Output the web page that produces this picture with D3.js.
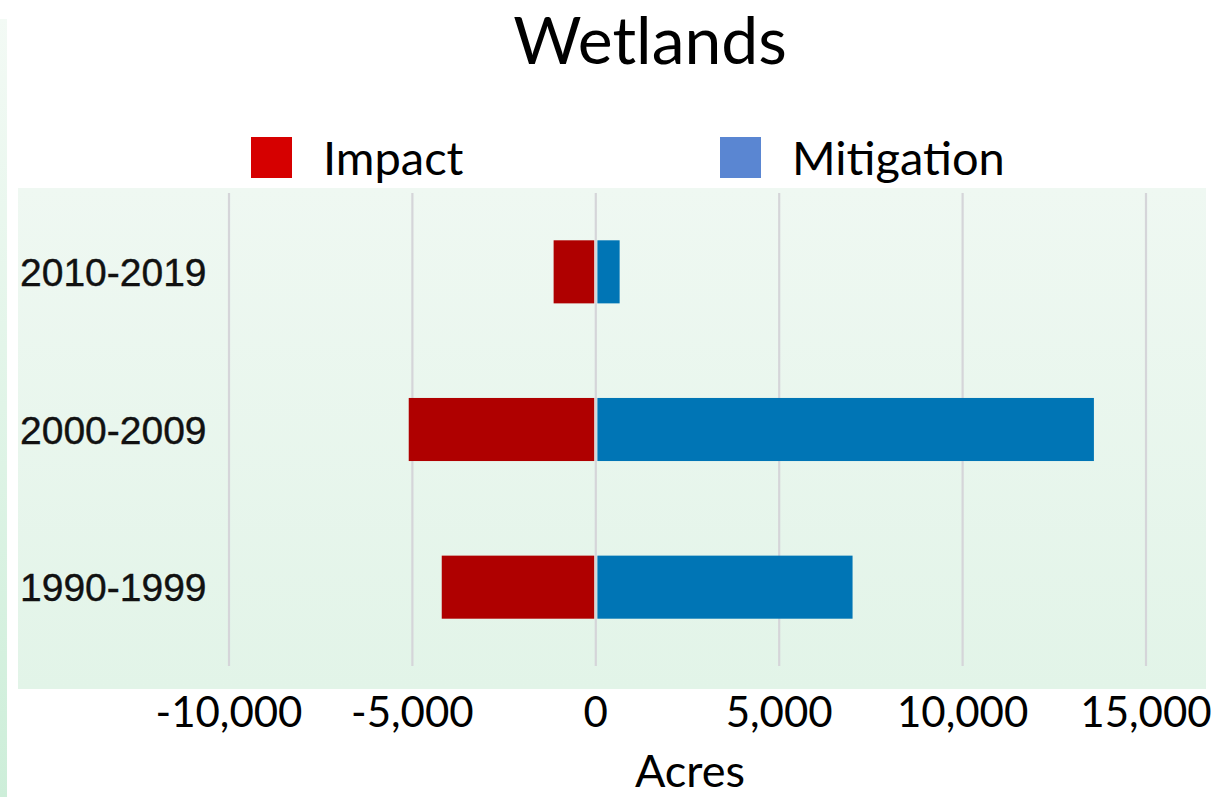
<!DOCTYPE html>
<html>
<head>
<meta charset="utf-8">
<script src="https://cdn.jsdelivr.net/npm/d3@7"></script>
<style>
  html, body { margin: 0; padding: 0; background: #ffffff; overflow: hidden; }
  svg { display: block; }
</style>
</head>
<body>
<svg id="chart" width="1226" height="797"></svg>
<script>
// ---- data ----
const categories = ["2010-2019", "2000-2009", "1990-1999"];
const impact = [-1150, -5100, -4200];
const mitigation = [650, 13580, 7000];
const seriesNames = ["Impact", "Mitigation"];
const xTicks = [-10000, -5000, 0, 5000, 10000, 15000];
const titleText = "Wetlands";
const axisTitle = "Acres";

// ---- layout ----
const W = 1226, H = 797;
const svg = d3.select("#chart");
const defs = svg.append("defs");

const panelGrad = defs.append("linearGradient").attr("id", "panelGrad")
  .attr("x1", 0).attr("y1", 0).attr("x2", 0).attr("y2", 1);
panelGrad.append("stop").attr("offset", "0%").attr("stop-color", "#eff8f2");
panelGrad.append("stop").attr("offset", "100%").attr("stop-color", "#e2f4e8");

const stripGrad = defs.append("linearGradient").attr("id", "stripGrad")
  .attr("x1", 0).attr("y1", 0).attr("x2", 0).attr("y2", 1);
stripGrad.append("stop").attr("offset", "0%").attr("stop-color", "#f3faf5");
stripGrad.append("stop").attr("offset", "100%").attr("stop-color", "#cdeed9");

// left edge strip
svg.append("rect").attr("x", 0).attr("y", 19).attr("width", 7).attr("height", H - 19)
  .attr("fill", "url(#stripGrad)");

// plot panel
const panel = { x0: 18, x1: 1206, y0: 188, y1: 689 };
svg.append("rect")
  .attr("x", panel.x0).attr("y", panel.y0)
  .attr("width", panel.x1 - panel.x0).attr("height", panel.y1 - panel.y0)
  .attr("fill", "url(#panelGrad)");

const x = d3.scaleLinear().domain([-10000, 15000]).range([229, 1146]);
const y = d3.scaleBand().domain(categories).range([193, 666])
  .paddingInner(0.6).paddingOuter(0.3);

// gridlines
svg.append("g").selectAll("line").data(xTicks).join("line")
  .attr("x1", d => x(d)).attr("x2", d => x(d))
  .attr("y1", 193).attr("y2", 666)
  .attr("stroke", "#d5d5d9").attr("stroke-width", 2.2);

// bars
const rows = categories.map((c, i) => ({ c, imp: impact[i], mit: mitigation[i] }));
const gap = 1.6;
svg.append("g").selectAll("rect").data(rows).join("rect")
  .attr("x", d => x(d.imp))
  .attr("width", d => x(0) - x(d.imp) - gap)
  .attr("y", d => y(d.c)).attr("height", y.bandwidth())
  .attr("fill", "#af0000");
svg.append("g").selectAll("rect").data(rows).join("rect")
  .attr("x", x(0) + gap)
  .attr("width", d => x(d.mit) - x(0) - gap)
  .attr("y", d => y(d.c)).attr("height", y.bandwidth())
  .attr("fill", "#0075b5");

// category labels
svg.append("g").selectAll("text").data(categories).join("text")
  .attr("x", 20).attr("y", d => y(d) + y.bandwidth() / 2)
  .attr("dy", "0.36em")
  .attr("font-family", "'Liberation Sans', Arial, sans-serif")
  .attr("font-size", 39)
  .attr("fill", "#111")
  .attr("stroke", "#111").attr("stroke-width", 0.4)
  .text(d => d);

// x axis tick labels
const fmt = d3.formatLocale({ decimal: ".", thousands: ",", grouping: [3], currency: ["", ""], minus: "-" }).format(",");
svg.append("g").selectAll("text").data(xTicks).join("text")
  .attr("x", d => x(d)).attr("y", 727)
  .attr("text-anchor", "middle")
  .attr("font-family", "Lato, 'Open Sans', sans-serif")
  .attr("font-size", 42)
  .attr("fill", "#000")
  .text(d => fmt(d));

// axis title
svg.append("text")
  .attr("x", 690).attr("y", 787)
  .attr("text-anchor", "middle")
  .attr("font-family", "Lato, 'Open Sans', sans-serif")
  .attr("font-size", 45)
  .attr("fill", "#000")
  .text(axisTitle);

// chart title
svg.append("text")
  .attr("x", 650).attr("y", 64)
  .attr("text-anchor", "middle")
  .attr("font-family", "Lato, 'Open Sans', sans-serif")
  .attr("font-size", 66)
  .attr("fill", "#000")
  .text(titleText);

// legend
const legendColors = ["#d60000", "#5a86d2"];
const legendX = [251, 720];
const lg = svg.append("g").selectAll("g").data(seriesNames).join("g")
  .attr("transform", (d, i) => `translate(${legendX[i]},137)`);
lg.append("rect").attr("width", 41).attr("height", 41)
  .attr("fill", (d, i) => legendColors[i]);
lg.append("text").attr("x", 72).attr("y", 38)
  .attr("font-family", "Lato, 'Open Sans', sans-serif")
  .attr("font-size", 47)
  .attr("fill", "#000")
  .text(d => d);
</script>
</body>
</html>
